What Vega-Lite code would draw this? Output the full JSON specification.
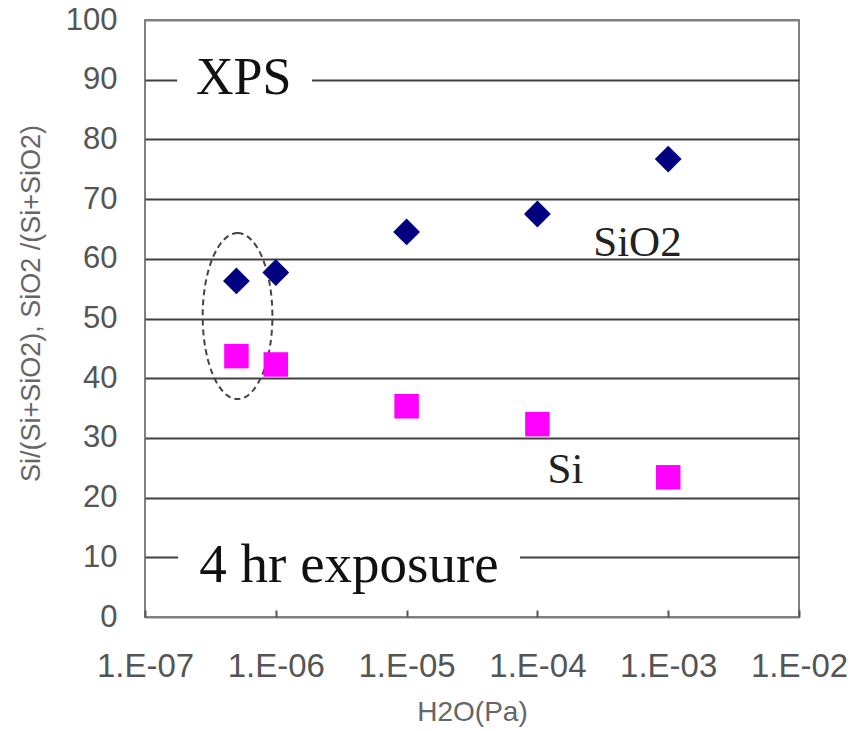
{
  "$schema": "https://vega.github.io/schema/vega-lite/v6.json",
  "width": 654,
  "height": 597,
  "autosize": {"type": "none"},
  "padding": {"left": 145, "top": 20, "right": 52, "bottom": 114},
  "background": "white",
  "config": {
    "view": {"stroke": "#808080", "strokeWidth": 2}
  },
  "datasets": {
    "points": [
      {"h2o": 5e-7, "value": 56.3, "species": "SiO2"},
      {"h2o": 1e-6, "value": 57.7, "species": "SiO2"},
      {"h2o": 1e-5, "value": 64.5, "species": "SiO2"},
      {"h2o": 1e-4, "value": 67.5, "species": "SiO2"},
      {"h2o": 1e-3, "value": 76.7, "species": "SiO2"},
      {"h2o": 5e-7, "value": 43.7, "species": "Si"},
      {"h2o": 1e-6, "value": 42.3, "species": "Si"},
      {"h2o": 1e-5, "value": 35.3, "species": "Si"},
      {"h2o": 1e-4, "value": 32.3, "species": "Si"},
      {"h2o": 1e-3, "value": 23.4, "species": "Si"}
    ],
    "boxes": [
      {"h2o": 1.76e-7, "h2o2": 1.89e-6, "value": 86, "value2": 94},
      {"h2o": 1.79e-7, "h2o2": 7.36e-5, "value": 6, "value2": 14}
    ],
    "xpsLabel": [
      {"h2o": 5.68e-7, "value": 87.6, "text": "XPS"}
    ],
    "exposureLabel": [
      {"h2o": 3.63e-6, "value": 5.86, "text": "4 hr exposure"}
    ],
    "seriesLabels": [
      {"h2o": 5.82e-4, "value": 60.5, "text": "SiO2"},
      {"h2o": 1.64e-4, "value": 22.4, "text": "Si"}
    ],
    "ellipse": [
      {"h2o": 5.1e-7, "value": 50.4}
    ]
  },
  "encoding": {
    "x": {
      "field": "h2o",
      "type": "quantitative",
      "scale": {"type": "log", "domain": [1e-7, 1e-2]},
      "axis": {
        "title": "H2O(Pa)",
        "values": [1e-7, 1e-6, 1e-5, 1e-4, 1e-3, 1e-2],
        "labelExpr": "'1.E-0' + round(-log(datum.value)/LN10)",
        "grid": false,
        "domain": false,
        "ticks": true,
        "tickSize": -7,
        "tickColor": "#555555",
        "tickWidth": 2,
        "labelFont": "Liberation Sans",
        "labelFontSize": 33,
        "labelColor": "#555555",
        "labelPadding": 40,
        "labelFlush": false,
        "labelOverlap": false,
        "labelBound": false,
        "titleFont": "Liberation Sans",
        "titleFontSize": 28,
        "titleFontWeight": "normal",
        "titleColor": "#666666",
        "titlePadding": 15
      }
    },
    "y": {
      "field": "value",
      "type": "quantitative",
      "scale": {"domain": [0, 100]},
      "axis": {
        "title": "Si/(Si+SiO2), SiO2 /(Si+SiO2)",
        "values": [0, 10, 20, 30, 40, 50, 60, 70, 80, 90, 100],
        "grid": true,
        "gridColor": {"condition": {"test": "datum.value == 0 || datum.value == 100", "value": "#808080"}, "value": "#404040"},
        "gridWidth": 2,
        "ticks": false,
        "domain": false,
        "labelFont": "Liberation Sans",
        "labelFontSize": 31,
        "labelColor": "#555555",
        "labelPadding": 28,
        "titleFont": "Liberation Sans",
        "titleFontSize": 27,
        "titleFontWeight": "normal",
        "titleColor": "#666666",
        "titlePadding": 20,
        "titleY": 283
      }
    }
  },
  "layer": [
    {
      "data": {"name": "boxes"},
      "mark": {"type": "rect", "fill": "white", "stroke": null},
      "encoding": {
        "x2": {"field": "h2o2"},
        "y2": {"field": "value2"}
      }
    },
    {
      "data": {"name": "ellipse"},
      "mark": {
        "type": "point",
        "shape": "M0,-1 A0.42,1 0 1,1 0,1 A0.42,1 0 1,1 0,-1 Z",
        "size": 27556,
        "filled": false,
        "stroke": "#444444",
        "strokeWidth": 2,
        "strokeDash": [6, 4],
        "opacity": 1
      }
    },
    {
      "data": {"name": "points"},
      "transform": [{"filter": "datum.species == 'SiO2'"}],
      "mark": {"type": "point", "shape": "diamond", "filled": true, "color": "#000080", "size": 720, "opacity": 1}
    },
    {
      "data": {"name": "points"},
      "transform": [{"filter": "datum.species == 'Si'"}],
      "mark": {"type": "point", "shape": "square", "filled": true, "color": "#FF00FF", "size": 600, "opacity": 1}
    },
    {
      "data": {"name": "xpsLabel"},
      "mark": {"type": "text", "font": "Liberation Serif", "fontSize": 52, "align": "center", "baseline": "alphabetic", "color": "#111111"},
      "encoding": {"text": {"field": "text"}}
    },
    {
      "data": {"name": "exposureLabel"},
      "mark": {"type": "text", "font": "Liberation Serif", "fontSize": 55, "align": "center", "baseline": "alphabetic", "color": "#111111"},
      "encoding": {"text": {"field": "text"}}
    },
    {
      "data": {"name": "seriesLabels"},
      "mark": {"type": "text", "font": "Liberation Serif", "fontSize": 43, "align": "center", "baseline": "alphabetic", "color": "#222222"},
      "encoding": {"text": {"field": "text"}}
    }
  ]
}
